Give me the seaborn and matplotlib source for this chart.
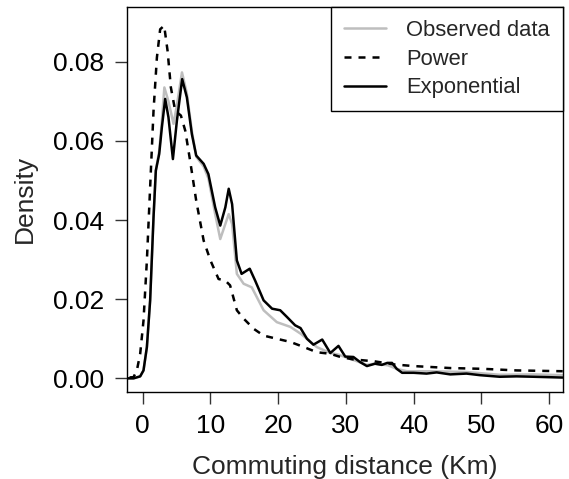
import matplotlib
matplotlib.use("Agg")
import matplotlib.pyplot as plt
import seaborn as sns
import pandas as pd

# Observed data (gray)
obs_x = [-4.0, -1.35, -0.37, 0.12, 0.62, 1.1, 1.6, 1.94, 2.44, 2.83, 3.2, 3.8, 4.55, 5.05, 5.8, 6.52,
         7.26, 7.9, 9.0, 9.7, 10.7, 11.45, 12.3, 12.7, 13.2, 13.9, 14.9, 16.1, 17.85, 19.8, 21.8, 23.3,
         24.25, 25.7, 27.7, 28.9, 30.5, 32.0, 33.1, 34.2, 36.2, 37.5, 39.0, 42.4, 47.8, 52.7, 57.7, 62.0]
obs_y = [0.0, 0.0, 0.0005, 0.002, 0.0079, 0.0197, 0.0407, 0.0525, 0.0575, 0.065, 0.0735, 0.0700, 0.0643,
         0.0690, 0.0773, 0.0720, 0.0625, 0.0560, 0.0535, 0.0505, 0.0415, 0.0352, 0.0395, 0.0415, 0.0390,
         0.0264, 0.0239, 0.0230, 0.0172, 0.0142, 0.0130, 0.0113, 0.0100, 0.0079, 0.0064, 0.0060, 0.0050,
         0.0041, 0.0034, 0.0037, 0.0033, 0.0024, 0.0018, 0.0018, 0.0016, 0.0009, 0.0010, 0.0008]

# Power model (dashed)
pow_x = [-4.0, -1.35, -0.86, -0.37, 0.12, 0.62, 1.1, 1.6, 2.1, 2.58, 3.17, 3.67, 4.16, 4.8, 5.64, 6.28,
         7.0, 7.9, 9.0, 10.0, 11.2, 12.2, 12.9, 13.9, 14.9, 16.4, 17.85, 19.8, 21.8, 23.8, 25.7, 27.7,
         29.0, 31.0, 34.2, 37.2, 40.0, 45.4, 50.3, 55.2, 62.0]
pow_y = [0.0, 0.0003, 0.002, 0.0062, 0.0146, 0.0298, 0.0483, 0.0676, 0.0811, 0.0882, 0.0891, 0.0828,
         0.0735, 0.0676, 0.0664, 0.0626, 0.0550, 0.0449, 0.0348, 0.0298, 0.0251, 0.0247, 0.0235, 0.0172,
         0.0151, 0.0125, 0.0108, 0.0100, 0.0092, 0.0079, 0.0066, 0.0062, 0.0055, 0.0048, 0.0043, 0.0035,
         0.0031, 0.0026, 0.0024, 0.0020, 0.0018]

# Exponential model (solid black)
exp_x = [-4.0, -1.35, -0.37, 0.12, 0.62, 1.1, 1.6, 1.94, 2.44, 2.83, 3.32, 3.8, 4.46, 5.05, 5.83, 6.52,
         7.26, 7.9, 9.0, 9.7, 10.7, 11.45, 12.2, 12.7, 13.2, 13.9, 14.6, 15.8, 16.6, 17.85, 19.1, 20.3,
         21.3, 22.5, 23.3, 24.25, 25.2, 26.5, 27.7, 28.9, 29.9, 31.1, 32.1, 33.1, 34.3, 35.3, 36.1, 36.8,
         37.5, 38.3, 40.0, 41.9, 43.4, 45.4, 47.8, 49.8, 52.7, 55.2, 57.7, 62.0]
exp_y = [0.0, 0.0, 0.0005, 0.002, 0.0079, 0.0197, 0.0407, 0.0525, 0.0567, 0.0634, 0.0706, 0.0660, 0.0554,
         0.0651, 0.0756, 0.0710, 0.0617, 0.0563, 0.0542, 0.0516, 0.0432, 0.0386, 0.0432, 0.0479, 0.0440,
         0.0298, 0.0264, 0.0277, 0.0247, 0.0197, 0.0176, 0.0172, 0.0155, 0.0134, 0.0127, 0.0100, 0.0085,
         0.0098, 0.0064, 0.0082, 0.0055, 0.0054, 0.0041, 0.0031, 0.0037, 0.0034, 0.0039, 0.0039, 0.0024,
         0.0014, 0.0014, 0.0012, 0.0015, 0.0010, 0.0012, 0.0008, 0.0004, 0.0005, 0.0004, 0.0002]

x_ticks = [0, 10, 20, 30, 40, 50, 60]
y_ticks = [0.00, 0.02, 0.04, 0.06, 0.08]
y_tick_labels = ["0.00", "0.02", "0.04", "0.06", "0.08"]

sns.set_style("ticks")
plt.rcParams['font.family'] = ['Liberation Sans', 'DejaVu Sans']

W, H = 569, 479
fig = plt.figure(figsize=(W / 100, H / 100), dpi=100)
L, R, T, B = 126.7, 562.7, 6.7, 392.0
ax = fig.add_axes([L / W, 1 - B / H, (R - L) / W, (B - T) / H])

lw = 1.8
sns.lineplot(x=obs_x, y=obs_y, ax=ax, color="#BEBEBE", linewidth=lw, label="Observed data", sort=False)
sns.lineplot(x=pow_x, y=pow_y, ax=ax, color="black", linewidth=lw, label="Power", sort=False)
ax.lines[-1].set_linestyle((0, (2.8, 2.8)))
sns.lineplot(x=exp_x, y=exp_y, ax=ax, color="black", linewidth=lw, label="Exponential", sort=False)

ax.set_xlim(-2.36, 62.0)
ax.set_ylim(-0.00345, 0.0939)
ax.set_xticks(x_ticks)
ax.set_xticklabels([str(t) for t in x_ticks])
ax.set_yticks(y_ticks)
ax.set_yticklabels(y_tick_labels)
ax.tick_params(axis='both', direction='out', length=8.5, width=1, color='#333333',
               labelsize=19, labelcolor='black', pad=7.5)
for s in ax.spines.values():
    s.set_visible(True)
    s.set_linewidth(1)
    s.set_color('black')

ax.set_xlabel("Commuting distance (Km)", fontsize=19)
ax.set_ylabel("Density", fontsize=19)
ax.xaxis.set_label_coords((344.7 - L) / (R - L), (B - 455) / (B - T))
ax.yaxis.set_label_coords((37 - L) / (R - L), 0.5)

leg = ax.legend(loc='upper right', borderaxespad=0, fancybox=False, edgecolor='black',
                framealpha=1, fontsize=15.8, handlelength=1.9, handletextpad=0.9,
                borderpad=0.6, labelspacing=0.35)
leg.get_frame().set_linewidth(1)
leg.legend_handles[1].set_linestyle((0, (2.8, 2.8)))

fig.savefig("out.png", dpi=100)
